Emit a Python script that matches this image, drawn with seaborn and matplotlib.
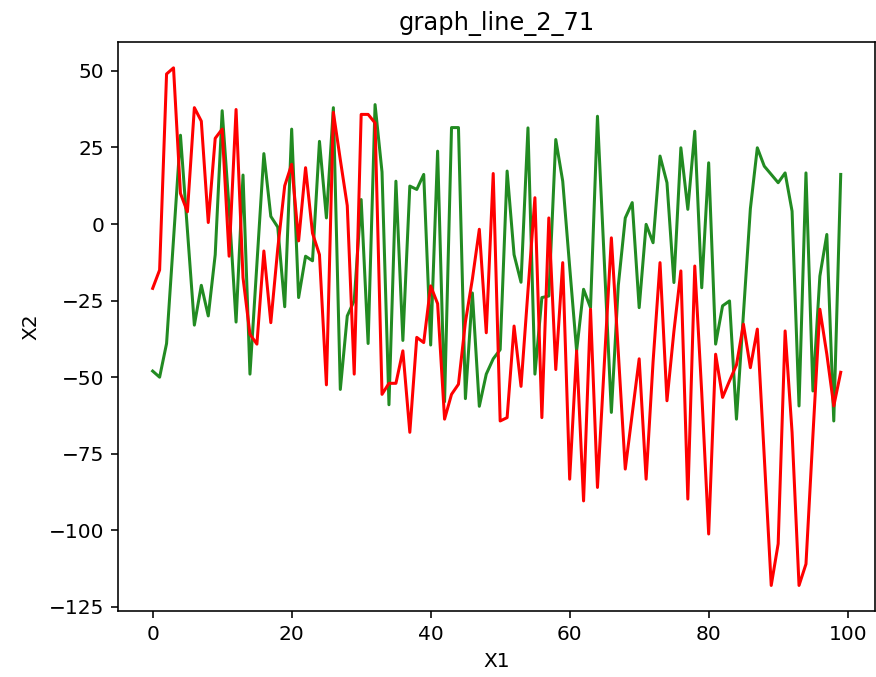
import numpy as np
import pandas as pd
import matplotlib
matplotlib.use("Agg")
import matplotlib.pyplot as plt
import seaborn as sns

# x positions 0..99
x1 = list(range(100))

# green series
verde = [
    -48, -50, -39, -5, 29, -2, -33, -20, -30, -10,
    37, 5, -32, 16, -49, -13, 23, 2.5, -1, -27,
    31, -24, -10.5, -12, 27, 2, 38, -54, -30, -25,
    8, -39, 39, 17, -59, 14, -38, 12.4, 11.3, 16.2,
    -39.5, 23.8, -58, 31.5, 31.5, -57, -22.5, -59.5, -49, -44,
    -41, 17.3, -10, -19, 31.4, -49, -24, -23.5, 27.6, 14,
    -14, -41.4, -21.3, -27.3, 35.2, -13, -61.5, -20, 2, 7,
    -27.3, -0.1, -6.1, 22.2, 13.5, -19.1, 24.9, 4.8, 30.3, -20.8,
    20, -39.2, -26.7, -25.1, -63.7, -29.4, 5, 24.9, 18.9, 16.2,
    13.5, 16.7, 4.2, -59.4, 16.7, -54.5, -17, -3.4, -64.3, 16.2,
]

# red series
vermelho = [
    -21, -15, 49, 51, 10, 4, 38, 33.6, 0.5, 28,
    31, -10.5, 37.4, -17.5, -36, -39.2, -8.8, -32.2, -8, 12.5,
    19.5, -5.5, 18.4, -3, -10, -52.5, 36.5, 21, 6, -49,
    35.8, 35.8, 33, -55.6, -52, -52, -41.4, -68, -37, -38.7,
    -20.2, -26, -63.7, -55.6, -52.3, -32, -18, -1.7, -35.5, 16.5,
    -64.3, -63.2, -33.3, -53, -21.8, 8.6, -63.2, 2, -47.5, -12.6,
    -83.3, -41.4, -90.4, -27.8, -86, -45, -4.5, -42, -80, -62,
    -44, -83.3, -45, -12.6, -57.7, -35, -15.3, -89.8, -13.7, -55,
    -101.2, -42.5, -56.6, -51.2, -46, -32.7, -46.9, -34.3, -76, -118,
    -104.4, -34.9, -68, -118, -111, -69, -27.8, -42.5, -59.4, -48.4,
]

df = pd.DataFrame({"X1": x1, "verde": verde, "vermelho": vermelho})

fig, ax = plt.subplots(figsize=(876 / 145, 677 / 145), dpi=145)
fig.subplots_adjust(left=0.135, right=0.999, top=0.938, bottom=0.097)

sns.lineplot(data=df, x="X1", y="verde", color="forestgreen", ax=ax)
sns.lineplot(data=df, x="X1", y="vermelho", color="red", ax=ax)

ax.set_title("graph_line_2_71")
ax.set_xlabel("X1")
ax.set_ylabel("X2")

fig.savefig("out.png", dpi=145)
